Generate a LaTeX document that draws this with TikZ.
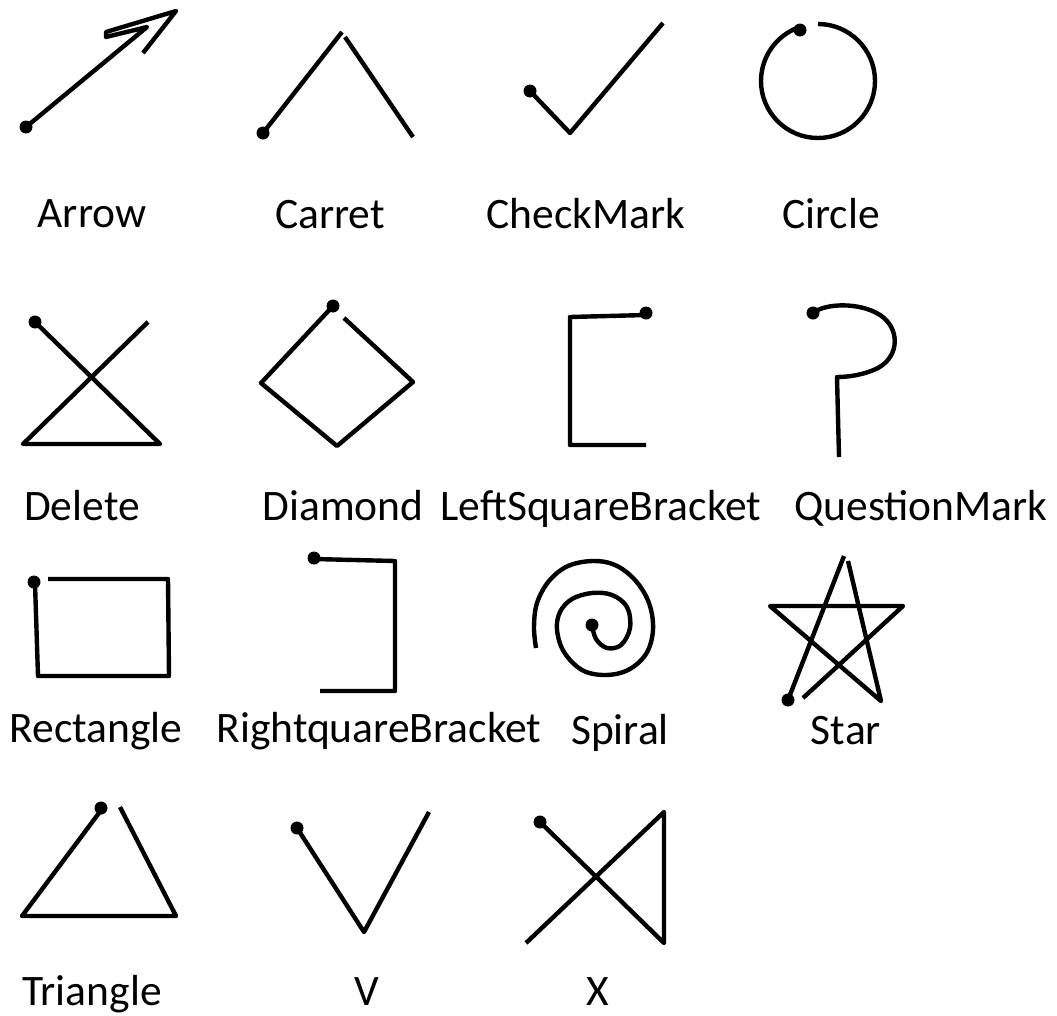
\documentclass[tikz,border=0pt]{standalone}
\usepackage{fontspec}
\setmainfont{Carlito}
\begin{document}
\begin{tikzpicture}[x=1pt,y=-1pt,
  shp/.style={line width=4.4pt, line join=round},
  lbl/.style={anchor=base, inner sep=0pt, font=\fontsize{43.5}{52}\selectfont},
  startdot/.style={fill=black}]
\useasboundingbox (0,0) rectangle (1057,1015);
% Arrow
\draw[shp] (26,127) -- (147,27) -- (106,37) -- (106,32) -- (176,11) -- (143,53);
\fill[startdot] (26,127) circle[radius=6.5];
\node[lbl] (tArrow) at (92,227) {Arrow};
% Carret
\draw[shp] (263,133) -- (342,32);
\draw[shp] (345,37) -- (413,137);
\fill[startdot] (263,133) circle[radius=6.5];
\node[lbl] (tCarret) at (330,228) {Carret};
% CheckMark
\draw[shp] (530,91) -- (570,133) -- (663,23);
\fill[startdot] (530,91) circle[radius=6.5];
\node[lbl] (tCheck) at (586,228) {CheckMark};
% Circle
\draw[shp] (818,24) arc[start angle=-90, end angle=250, radius=57];
\fill[startdot] (800,30) circle[radius=6.5];
\node[lbl] (tCircle) at (831,228) {Circle};
% Delete
\draw[shp] (35,322) -- (160,444) -- (23,444) -- (148,322);
\fill[startdot] (35,322) circle[radius=6.5];
\node[lbl] (tDelete) at (82,520) {Delete};
% Diamond
\draw[shp] (333,306) -- (261,383) -- (337,446) -- (413,382) -- (344,318);
\fill[startdot] (333,306) circle[radius=6.5];
\node[lbl] (tDiamond) at (343,520) {Diamond};
% LeftSquareBracket
\draw[shp] (646,315) -- (570,317) -- (570,445) -- (646,445);
\fill[startdot] (646,313) circle[radius=6.5];
\node[lbl] (tLSB) at (601,520) {LeftSquareBracket};
% QuestionMark
\draw[shp] (813,313) .. controls (825,303) and (860,302) .. (880,315)
  .. controls (900,328) and (900,356) .. (878,368)
  .. controls (864,375) and (848,377) .. (837,377) -- (839,457);
\fill[startdot] (813,313) circle[radius=6.5];
\node[lbl] (tQM) at (921,520) {QuestionMark};
% Rectangle
\draw[shp] (35,583) -- (38,676) -- (169,676) -- (168,579) -- (48,579);
\fill[startdot] (34,582) circle[radius=6.5];
\node[lbl] (tRect) at (96,742) {Rectangle};
% RightquareBracket
\draw[shp] (314,559) -- (395,561) -- (395,691) -- (320,691);
\fill[startdot] (314,558) circle[radius=6.5];
\node[lbl] (tRSB) at (379,742) {RightquareBracket};
% Spiral
\draw[shp] plot[smooth, tension=0.6] coordinates {
  (592,625) (596,639) (607,648) (621,645) (630,628) (627,607) (612,595)
  (592,593) (572,599) (560,612) (557,630) (564,652) (582,670) (605,675)
  (628,670) (646,654) (653,630) (649,603) (635,580) (615,565) (593,561)
  (568,566) (549,581) (537,603) (534,627) (536,648)};
\fill[startdot] (592,625) circle[radius=6.5];
\node[lbl] (tSpiral) at (620,744) {Spiral};
% Star
\draw[shp] (788,700) -- (844,556);
\draw[shp] (848,561) -- (881,701) -- (770,606) -- (903,606) -- (803,698);
\fill[startdot] (788,700) circle[radius=6.5];
\node[lbl] (tStar) at (846,744) {Star};
% Triangle
\draw[shp] (102,809) -- (22,916) -- (176,916) -- (120,807);
\fill[startdot] (101,808) circle[radius=6.5];
\node[lbl] (tTri) at (92,1005) {Triangle};
% V
\draw[shp] (297,828) -- (364,932) -- (429,812);
\fill[startdot] (297,828) circle[radius=6.5];
\node[lbl] (tV) at (367,1005) {V};
% X
\draw[shp] (540,822) -- (664,943) -- (664,812) -- (526,943);
\fill[startdot] (540,822) circle[radius=6.5];
\node[lbl] (tX) at (598,1005) {X};
\end{tikzpicture}
\end{document}
